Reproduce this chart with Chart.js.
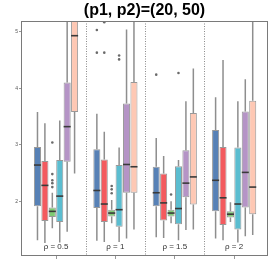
<!DOCTYPE html>
<html>
<head>
<meta charset="utf-8">
<script src="https://cdn.jsdelivr.net/npm/chart.js@4/dist/chart.umd.min.js"></script>
<style>
  html, body { margin: 0; padding: 0; background: #fff; }
  #wrap { width: 273px; height: 273px; }
</style>
</head>
<body>
<div id="wrap"><canvas id="c"></canvas></div>
<script>
// groups along x
var titleText = '(p1, p2)=(20, 50)';
var rhoLabels = ['ρ = 0.5', 'ρ = 1', 'ρ = 1.5', 'ρ = 2'];
var groupPos = [0, 1, 2, 3];
var separators = [0.5, 1.5, 2.5];
var yTicks = [2, 3, 4, 5];

// each box: [whisker low, q1, median, q3, whisker high], one per group
var blueBox   = [[1.31, 1.91, 2.64, 2.96, 3.58], [1.30, 1.88, 2.19, 2.92, 3.55], [1.36, 1.91, 2.15, 2.61, 3.12], [1.34, 1.82, 2.37, 3.26, 3.84]];
var redBox    = [[1.26, 1.65, 2.28, 2.71, 3.38], [1.28, 1.63, 1.95, 2.74, 3.23], [1.35, 1.66, 1.97, 2.49, 2.80], [1.31, 1.58, 2.06, 2.96, 4.50]];
var greenBox  = [[1.52, 1.72, 1.82, 1.89, 2.15], [1.61, 1.73, 1.79, 1.85, 2.02], [1.61, 1.73, 1.79, 1.85, 2.00], [1.63, 1.71, 1.77, 1.82, 1.98]];
var cyanBox   = [[1.27, 1.63, 2.09, 2.73, 3.43], [1.28, 1.55, 1.85, 2.64, 2.95], [1.31, 1.59, 1.87, 2.62, 2.73], [1.27, 1.50, 1.95, 2.95, 3.77]];
var purpleBox = [[1.46, 2.70, 3.32, 4.10, 5.60], [1.34, 2.15, 2.65, 3.73, 5.04], [1.49, 2.07, 2.32, 2.90, 3.77], [1.38, 1.89, 2.51, 3.59, 4.16]];
var peachBox  = [[2.49, 3.58, 4.93, 5.40, 5.80], [1.50, 2.15, 2.61, 4.11, 5.50], [1.50, 1.94, 2.43, 3.56, 4.35], [1.40, 1.77, 2.25, 3.78, 5.50]];

// outliers per group
var blueOut   = [[], [5.03, 4.63], [4.24], []];
var redOut    = [[], [5.17, 4.63], [], []];
var greenOut  = [[3.04, 2.48, 2.37, 2.32, 2.25], [2.27, 2.21, 2.14], [2.12], []];
var cyanOut   = [[], [4.58, 4.51], [4.27], []];
var purpleOut = [[], [], [], []];
var peachOut  = [[], [], [], []];

var boxes    = [blueBox, redBox, greenBox, cyanBox, purpleBox, peachBox];
var outliers = [blueOut, redOut, greenOut, cyanOut, purpleOut, peachOut];
var colors   = ['#5781b6', '#f35a5e', '#7fcb73', '#5bbdd0', '#b594c6', '#fec8b4'];

var labelY = 1.2;

var boxExtras = {
    id: 'boxExtras',
    beforeDatasetsDraw: function (chart) {
        var ctx = chart.ctx, a = chart.chartArea, x = chart.scales.x, y = chart.scales.y;
        ctx.save();
        // title, centred over the plot area
        ctx.fillStyle = '#000';
        ctx.font = 'bold 16px "Liberation Sans", Arial, sans-serif';
        ctx.textAlign = 'center';
        ctx.textBaseline = 'middle';
        ctx.fillText(titleText, (a.left + a.right) / 2, a.top / 2 + 0.5);
        // dotted group separators
        ctx.strokeStyle = '#8a8a8a';
        ctx.lineWidth = 1;
        ctx.setLineDash([1, 1.5]);
        separators.forEach(function (v) {
            var px = Math.round(x.getPixelForValue(v)) + 0.5;
            ctx.beginPath();
            ctx.moveTo(px, a.top);
            ctx.lineTo(px, a.bottom);
            ctx.stroke();
        });
        ctx.setLineDash([]);
        ctx.beginPath();
        ctx.rect(a.left, a.top, a.right - a.left, a.bottom - a.top);
        ctx.clip();
        // whiskers
        ctx.strokeStyle = '#8e8e8e';
        ctx.lineWidth = 1.5;
        boxes.forEach(function (b, k) {
            var meta = chart.getDatasetMeta(k);
            b.forEach(function (s, g) {
                var px = meta.data[g].x;
                ctx.beginPath();
                ctx.moveTo(px, y.getPixelForValue(s[0]));
                ctx.lineTo(px, y.getPixelForValue(s[1]));
                ctx.moveTo(px, y.getPixelForValue(s[3]));
                ctx.lineTo(px, y.getPixelForValue(s[4]));
                ctx.stroke();
            });
        });
        ctx.restore();
    },
    afterDatasetsDraw: function (chart) {
        var ctx = chart.ctx, a = chart.chartArea, x = chart.scales.x, y = chart.scales.y;
        ctx.save();
        ctx.beginPath();
        ctx.rect(a.left, a.top, a.right - a.left, a.bottom - a.top);
        ctx.clip();
        // medians
        ctx.strokeStyle = '#3a3a3a';
        ctx.lineWidth = 1.6;
        boxes.forEach(function (b, k) {
            var meta = chart.getDatasetMeta(k);
            b.forEach(function (s, g) {
                var el = meta.data[g];
                var py = y.getPixelForValue(s[2]);
                ctx.beginPath();
                ctx.moveTo(el.x - el.width / 2, py);
                ctx.lineTo(el.x + el.width / 2, py);
                ctx.stroke();
            });
        });
        // outliers
        ctx.fillStyle = '#6a6a6a';
        outliers.forEach(function (o, k) {
            var meta = chart.getDatasetMeta(k);
            o.forEach(function (vals, g) {
                vals.forEach(function (v) {
                    ctx.beginPath();
                    ctx.arc(meta.data[g].x, y.getPixelForValue(v), 1.3, 0, Math.PI * 2);
                    ctx.fill();
                });
            });
        });
        // group labels
        ctx.fillStyle = '#333';
        ctx.font = '8px "Liberation Sans", Arial, sans-serif';
        ctx.textAlign = 'center';
        ctx.textBaseline = 'middle';
        rhoLabels.forEach(function (t, g) {
            ctx.fillText(t, x.getPixelForValue(groupPos[g]), y.getPixelForValue(labelY));
        });
        ctx.restore();
        // frame
        ctx.save();
        ctx.strokeStyle = '#7a7a7a';
        ctx.lineWidth = 1;
        ctx.strokeRect(Math.round(a.left) + 0.5, Math.round(a.top) + 0.5,
            Math.round(a.right - a.left) - 1, Math.round(a.bottom - a.top) - 1);
        ctx.restore();
    }
};

var datasets = boxes.map(function (b, k) {
    return {
        type: 'bar',
        data: b.map(function (s, g) { return { x: groupPos[g], y: [s[1], s[3]] }; }),
        backgroundColor: colors[k],
        borderColor: 'rgba(110,110,110,0.7)',
        borderWidth: 1,
        borderSkipped: false,
        categoryPercentage: 0.75,
        barPercentage: 0.95
    };
});

new Chart(document.getElementById('c'), {
    type: 'bar',
    data: { datasets: datasets },
    plugins: [boxExtras],
    options: {
        responsive: true,
        maintainAspectRatio: false,
        animation: false,
        layout: { padding: { left: 0, right: 5, top: 21, bottom: 0 } },
        plugins: {
            legend: { display: false },
            tooltip: { enabled: false },
            title: { display: false }
        },
        scales: {
            x: {
                type: 'linear',
                offset: false,
                min: -0.59,
                max: 3.57,
                afterBuildTicks: function (s) { s.ticks = groupPos.map(function (v) { return { value: v }; }); },
                afterFit: function (s) { s.height = 17; },
                ticks: { display: false },
                grid: { offset: false, drawOnChartArea: false, tickLength: 3, color: '#999' },
                border: { display: false }
            },
            y: {
                min: 1.03,
                max: 5.19,
                afterBuildTicks: function (s) { s.ticks = yTicks.map(function (v) { return { value: v }; }); },
                afterFit: function (s) { s.width = 21; },
                ticks: { color: '#555', font: { size: 5 }, padding: 1 },
                grid: { drawOnChartArea: false, tickLength: 2, color: '#999' },
                border: { display: false }
            }
        }
    }
});
</script>
</body>
</html>
